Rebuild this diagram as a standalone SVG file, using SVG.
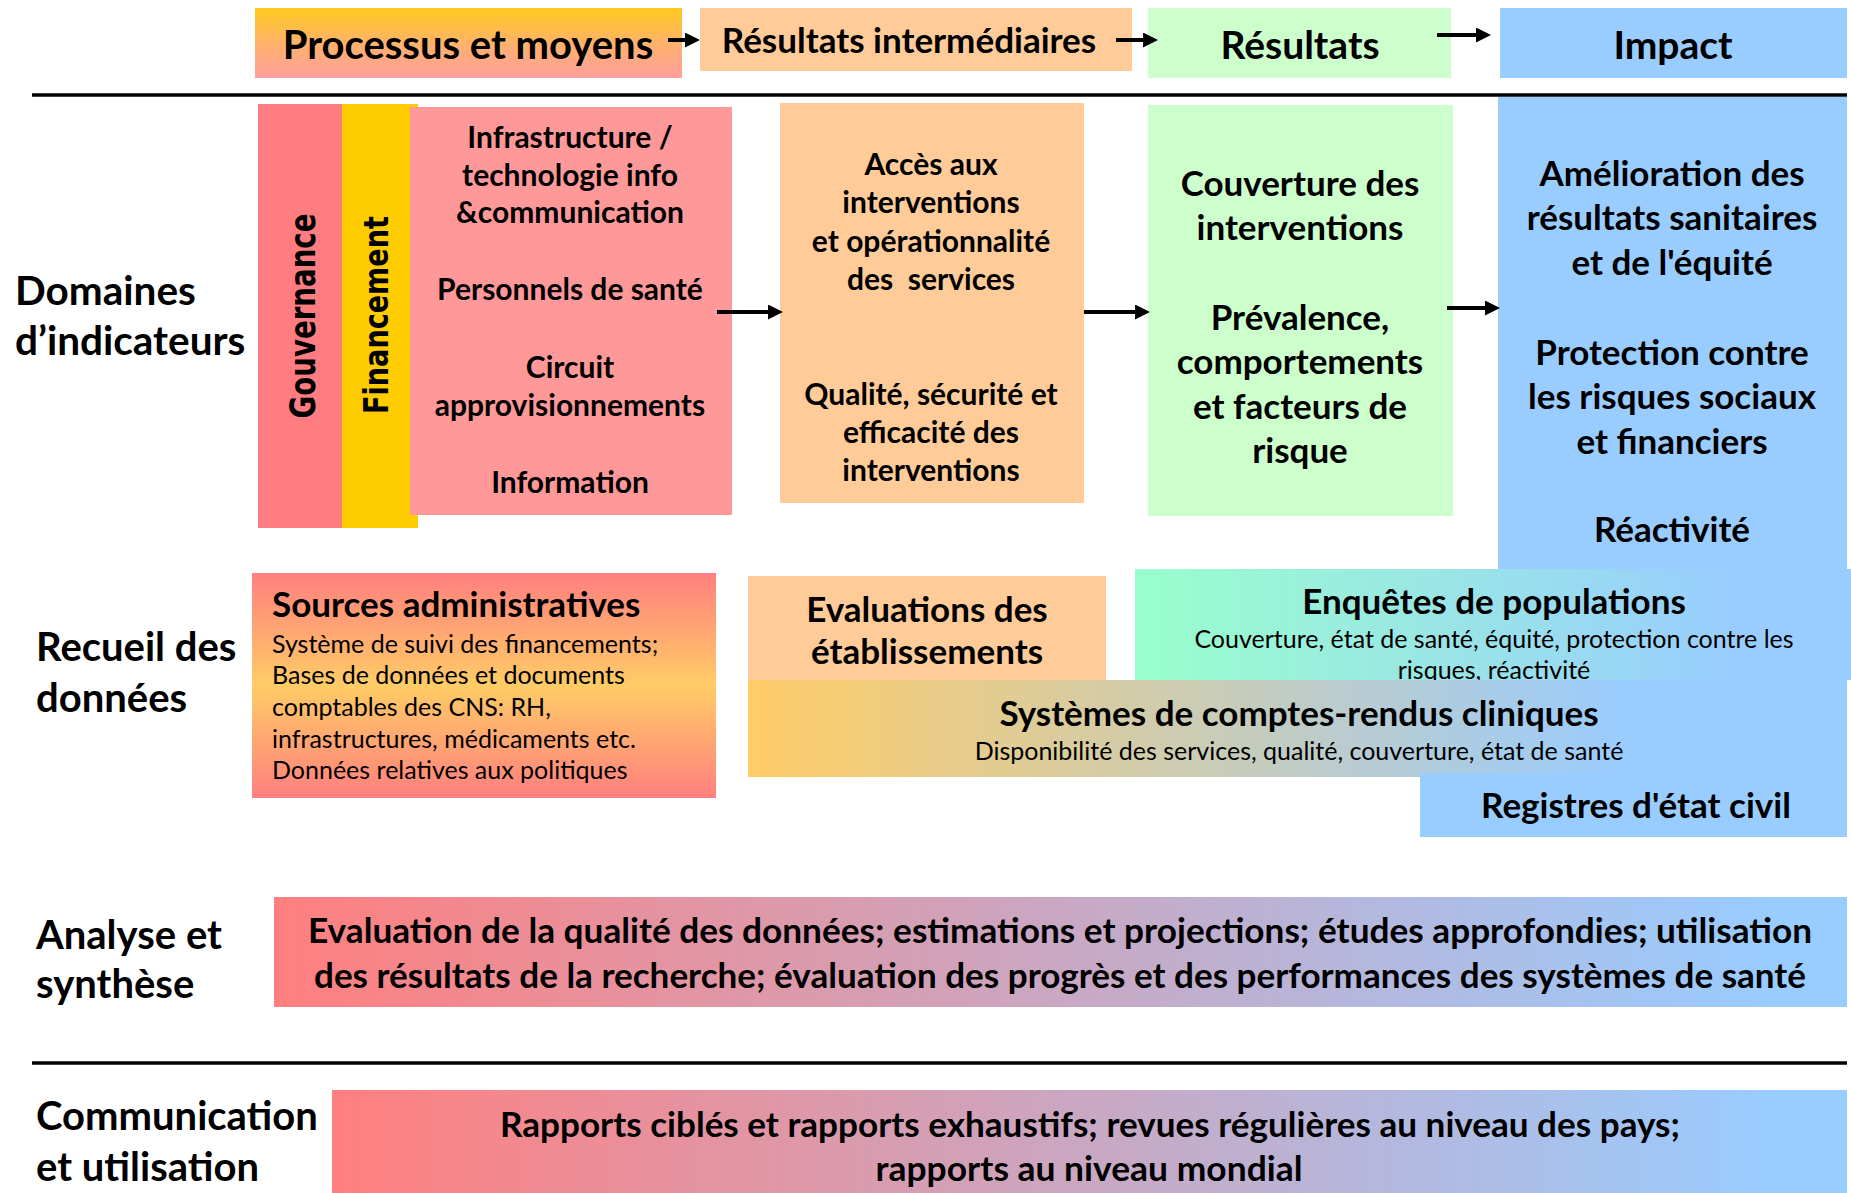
<svg xmlns="http://www.w3.org/2000/svg" width="1851" height="1193" viewBox="0 0 1851 1193">
<style>
text{font-family:Lato,"Liberation Sans",sans-serif;fill:#000}
.b{font-weight:700}
.c{text-anchor:middle}
.t30{font-size:30px}
.t35{font-size:35px}
.t40{font-size:40px}
.lab{font-size:40px;font-weight:700}
.s25{font-size:25px;font-weight:400}
.conn line{stroke:#000;stroke-width:4;marker-end:url(#ah)}
</style>
<defs>
<marker id="ah" markerUnits="userSpaceOnUse" markerWidth="16" markerHeight="16" refX="4" refY="7.5" orient="auto"><path d="M0,0 L15,7.5 L0,15 z" fill="#000"/></marker>
<linearGradient id="gProc" x1="0" y1="0" x2="0" y2="1"><stop offset="0" stop-color="#FFCA1E"/><stop offset="0.55" stop-color="#FFB070"/><stop offset="1" stop-color="#FF9E9E"/></linearGradient>
<linearGradient id="gSrc" x1="0" y1="0" x2="0" y2="1"><stop offset="0" stop-color="#FF7F7F"/><stop offset="0.5" stop-color="#FFCC66"/><stop offset="1" stop-color="#FF7F7F"/></linearGradient>
<linearGradient id="gEnq" x1="0" y1="0" x2="1" y2="0"><stop offset="0" stop-color="#99FFCC"/><stop offset="0.85" stop-color="#99CCFF"/></linearGradient>
<linearGradient id="gSys" x1="0" y1="0" x2="1" y2="0"><stop offset="0" stop-color="#FFCC66"/><stop offset="0.8" stop-color="#99CCFF"/></linearGradient>
<linearGradient id="gAna" x1="0" y1="0" x2="1" y2="0"><stop offset="0" stop-color="#FF7F7F"/><stop offset="0.95" stop-color="#99CCFF"/></linearGradient>
</defs>

<!-- separators -->
<g id="separators">
<line x1="32" y1="95" x2="1847" y2="95" stroke="#000" stroke-width="3.5"/>
<line x1="32" y1="1063" x2="1847" y2="1063" stroke="#000" stroke-width="3.5"/>
</g>

<!-- header -->
<g id="h-processus"><rect x="255" y="8" width="427" height="70" fill="url(#gProc)"/><text class="b c t40" x="468" y="59">Processus et moyens</text></g>
<g id="h-intermediaires"><rect x="700" y="8" width="432" height="63" fill="#FFCC99"/><text class="b c t35" x="909" y="53">Résultats intermédiaires</text></g>
<g id="h-resultats"><rect x="1148" y="8" width="303" height="70" fill="#CCFFCC"/><text class="b c" style="font-size:39px" x="1300" y="59">Résultats</text></g>
<g id="h-impact"><rect x="1500" y="8" width="347" height="70" fill="#99CCFF"/><text class="b c" style="font-size:39px" x="1673" y="59">Impact</text></g>

<!-- row labels -->
<g id="labels">
<text class="lab" x="15" y="305" style="font-size:40.5px">Domaines</text>
<text class="lab" x="15" y="355" style="font-size:40.5px">d’indicateurs</text>
<text class="lab" x="36" y="661">Recueil des</text>
<text class="lab" x="36" y="712">données</text>
<text class="lab" x="36" y="949">Analyse et</text>
<text class="lab" x="36" y="998">synthèse</text>
<text class="lab" x="36" y="1130">Communication</text>
<text class="lab" x="36" y="1181">et utilisation</text>
</g>

<!-- domaines row -->
<g id="gouvernance"><rect x="258" y="104" width="84" height="424" fill="#FF7C80"/>
<text class="b c" style="font-family:'DejaVu Sans',Verdana,sans-serif;font-size:35px" transform="translate(315,316) rotate(-90)" x="0" y="0" textLength="205" lengthAdjust="spacingAndGlyphs">Gouvernance</text></g>
<g id="financement"><rect x="342" y="104" width="76" height="424" fill="#FFCC00"/>
<text class="b c" style="font-family:'DejaVu Sans',Verdana,sans-serif;font-size:33px" transform="translate(388,315) rotate(-90)" x="0" y="0" textLength="198" lengthAdjust="spacingAndGlyphs">Financement</text></g>
<g id="processus"><rect x="410" y="107" width="322" height="408" fill="#FF9999"/>
<text class="b c t30" x="570" y="148">Infrastructure /</text>
<text class="b c t30" x="570" y="186">technologie info</text>
<text class="b c t30" x="570" y="223">&amp;communication</text>
<text class="b c t30" x="570" y="300">Personnels de santé</text>
<text class="b c t30" x="570" y="378">Circuit</text>
<text class="b c t30" x="570" y="416">approvisionnements</text>
<text class="b c t30" x="570" y="493">Information</text>
</g>
<g id="intermediaires"><rect x="780" y="103" width="304" height="400" fill="#FFCC99"/>
<text class="b c t30" x="931" y="175">Accès aux</text>
<text class="b c t30" x="931" y="213">interventions</text>
<text class="b c t30" x="931" y="252">et opérationnalité</text>
<text class="b c t30" x="931" y="290" style="white-space:pre">des  services</text>
<text class="b c t30" x="931" y="405">Qualité, sécurité et</text>
<text class="b c t30" x="931" y="443">efficacité des</text>
<text class="b c t30" x="931" y="481">interventions</text>
</g>
<g id="resultats"><rect x="1148" y="105" width="305" height="411" fill="#CCFFCC"/>
<text class="b c t35" x="1300" y="196">Couverture des</text>
<text class="b c t35" x="1300" y="240">interventions</text>
<text class="b c t35" x="1300" y="330">Prévalence,</text>
<text class="b c t35" x="1300" y="374">comportements</text>
<text class="b c t35" x="1300" y="419">et facteurs de</text>
<text class="b c t35" x="1300" y="463">risque</text>
</g>
<g id="impact"><rect x="1498" y="97" width="349" height="583" fill="#99CCFF"/>
<text class="b c t35" x="1672" y="186">Amélioration des</text>
<text class="b c t35" x="1672" y="230">résultats sanitaires</text>
<text class="b c t35" x="1672" y="275">et de l'équité</text>
<text class="b c t35" x="1672" y="365">Protection contre</text>
<text class="b c t35" x="1672" y="409">les risques sociaux</text>
<text class="b c t35" x="1672" y="454">et financiers</text>
<text class="b c t35" x="1672" y="542">Réactivité</text>
</g>

<!-- recueil row -->
<g id="sources"><rect x="252" y="573" width="464" height="225" fill="url(#gSrc)"/>
<text class="b t35" x="272" y="617">Sources administratives</text>
<text class="s25" x="272" y="653">Système de suivi des financements;</text>
<text class="s25" x="272" y="684">Bases de données et documents</text>
<text class="s25" x="272" y="716">comptables des CNS: RH,</text>
<text class="s25" x="272" y="748">infrastructures, médicaments etc.</text>
<text class="s25" x="272" y="779">Données relatives aux politiques</text>
</g>
<g id="evaluations"><rect x="748" y="576" width="358" height="104" fill="#FFCC99"/>
<text class="b c t35" x="927" y="622">Evaluations des</text>
<text class="b c t35" x="927" y="664">établissements</text>
</g>
<g id="enquetes"><rect x="1135" y="569" width="716" height="111" fill="url(#gEnq)"/>
<text class="b c t35" x="1494" y="614">Enquêtes de populations</text>
<text class="s25 c" x="1494" y="648">Couverture, état de santé, équité, protection contre les</text>
<text class="s25 c" x="1494" y="679">risques, réactivité</text>
</g>
<g id="systemes"><rect x="748" y="680" width="1099" height="97" fill="url(#gSys)"/>
<text class="b c t35" x="1299" y="726">Systèmes de comptes-rendus cliniques</text>
<text class="s25 c" x="1299" y="760">Disponibilité des services, qualité, couverture, état de santé</text>
</g>
<g id="registres"><rect x="1420" y="773" width="427" height="64" fill="#99CCFF"/>
<text class="b c t35" x="1636" y="818">Registres d'état civil</text>
</g>

<!-- analyse -->
<g id="analyse"><rect x="274" y="897" width="1573" height="110" fill="url(#gAna)"/>
<text class="b c" style="font-size:34px" x="1060" y="943" textLength="1504" lengthAdjust="spacingAndGlyphs">Evaluation de la qualité des données; estimations et projections; études approfondies; utilisation</text>
<text class="b c" style="font-size:34px" x="1060" y="988" textLength="1492" lengthAdjust="spacingAndGlyphs">des résultats de la recherche; évaluation des progrès et des performances des systèmes de santé</text>
</g>

<!-- communication -->
<g id="communication"><rect x="332" y="1090" width="1515" height="103" fill="url(#gAna)"/>
<text class="b c" style="font-size:34px" x="1090" y="1137" textLength="1180" lengthAdjust="spacingAndGlyphs">Rapports ciblés et rapports exhaustifs; revues régulières au niveau des pays;</text>
<text class="b c" style="font-size:34px" x="1089" y="1181" textLength="427" lengthAdjust="spacingAndGlyphs">rapports au niveau mondial</text>
</g>

<!-- connectors -->
<g id="connectors" class="conn">
<line x1="668" y1="40" x2="689" y2="40"/>
<line x1="1116" y1="40" x2="1147" y2="40"/>
<line x1="1437" y1="35" x2="1480" y2="35"/>
<line x1="717" y1="312" x2="772" y2="312"/>
<line x1="1084" y1="312" x2="1139" y2="312"/>
<line x1="1447" y1="308" x2="1489" y2="308"/>
</g>
</svg>
